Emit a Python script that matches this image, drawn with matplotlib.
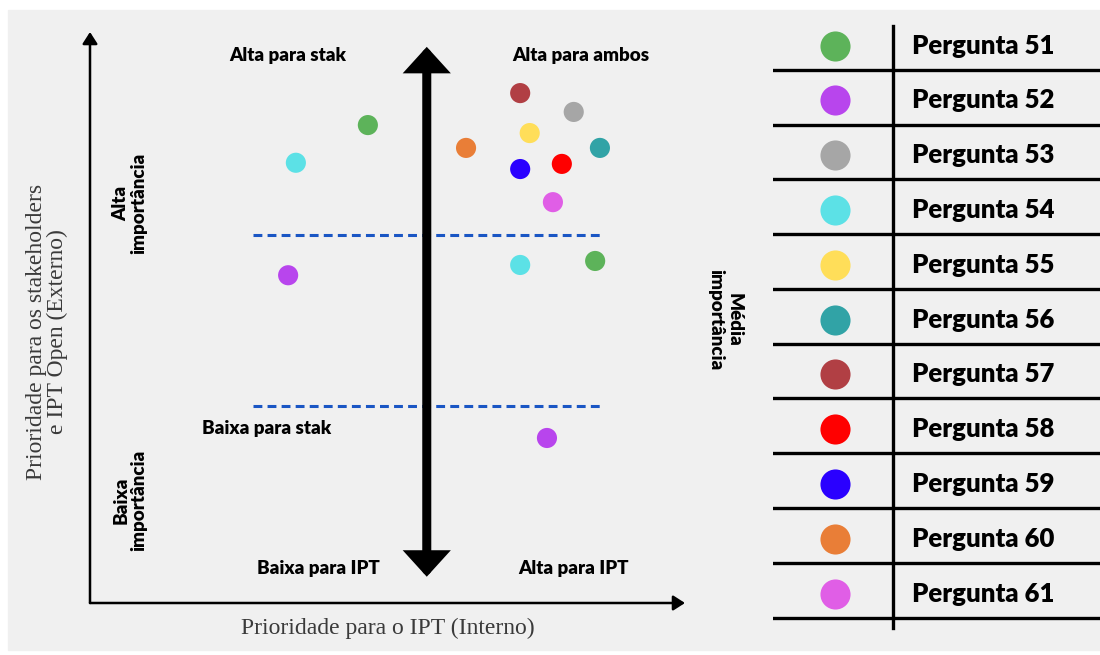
import matplotlib.pyplot as plt
from matplotlib.patches import Rectangle

# legenda: perguntas e cores
perguntas = ["Pergunta 51", "Pergunta 52", "Pergunta 53", "Pergunta 54",
             "Pergunta 55", "Pergunta 56", "Pergunta 57", "Pergunta 58",
             "Pergunta 59", "Pergunta 60", "Pergunta 61"]
cores = ["#5db35a", "#b845ed", "#a6a6a6", "#5ce1e6", "#ffde59", "#31a3a6",
         "#b13f44", "#ff0000", "#2a00ff", "#e97e37", "#e05ee6"]

# pontos (pergunta, prioridade IPT, prioridade stakeholders) numa escala 0-10
pontos_perg = [51, 51, 52, 52, 53, 54, 54, 55, 56, 57, 58, 59, 60, 61]
pontos_ipt = [4.67, 8.49, 3.33, 7.68, 8.13, 3.46, 7.23, 7.39, 8.57, 7.23, 7.93, 7.23, 6.32, 7.78]
pontos_stak = [8.37, 5.99, 5.74, 2.89, 8.60, 7.71, 5.92, 8.23, 7.97, 8.93, 7.69, 7.60, 7.97, 7.02]

# cortes
corte_ipt = 5.66
corte_alta = 6.44
corte_baixa = 3.45

FONTE = "Lato"
SERIF = "Liberation Serif"

fig = plt.figure(figsize=(11, 6.55), dpi=100, facecolor="white")
fig.add_artist(Rectangle((8 / 1100, 5 / 655), 1 - 8 / 1100, 640 / 655,
                         transform=fig.transFigure, color="#f0f0f0", zorder=0))

# ---- gráfico principal ----
ax = fig.add_axes([90 / 1100, 52 / 655, 595 / 1100, 571 / 655])
ax.set_xlim(0, 10)
ax.set_ylim(0, 10)
ax.axis("off")

# eixos com setas
eixo = dict(arrowstyle="-|>,head_length=7,head_width=4.5", lw=1.8, color="black",
            mutation_scale=1, shrinkA=0, shrinkB=0)
ax.annotate("", xy=(0, 10), xytext=(0, 0), arrowprops=eixo, annotation_clip=False)
ax.annotate("", xy=(10, 0), xytext=(0, 0), arrowprops=eixo, annotation_clip=False)

# seta dupla central
ax.annotate("", xy=(corte_ipt, 9.74), xytext=(corte_ipt, 0.46),
            arrowprops=dict(arrowstyle="<|-|>,head_length=11,head_width=10", lw=6.5,
                            color="black", mutation_scale=1, shrinkA=0, shrinkB=0,
                            joinstyle="miter"),
            annotation_clip=False)

# linhas tracejadas
for yc in [corte_alta, corte_baixa]:
    ax.plot([2.74, 8.57], [yc, yc], color="#1a56c4", lw=2.2, ls=(0, (2.9, 1.7)))

# pontos
cor_de = dict(zip(range(51, 62), cores))
ax.scatter(pontos_ipt, pontos_stak, s=210, c=[cor_de[p] for p in pontos_perg],
           linewidths=0, zorder=3)

# rótulos dos quadrantes
rot = dict(fontfamily=FONTE, fontweight="heavy", fontsize=13.5, ha="center", va="center")
ax.text(3.33, 9.58, "Alta para stak", **rot)
ax.text(8.25, 9.58, "Alta para ambos", **rot)
ax.text(2.97, 3.06, "Baixa para stak", **rot)
ax.text(3.83, 0.61, "Baixa para IPT", **rot)
ax.text(8.13, 0.61, "Alta para IPT", **rot)
ax.text(0.67, 7.0, "Alta\nimportância", rotation=90, multialignment="center",
        linespacing=1.05, **rot)
ax.text(0.67, 1.80, "Baixa\nimportância", rotation=90, multialignment="center",
        linespacing=1.05, **rot)
ax.text(10.67, 4.96, "Média\nimportância", rotation=270, multialignment="center",
        linespacing=1.05, clip_on=False, **rot)

# títulos dos eixos
ax.text(5.0, -0.44, "Prioridade para o IPT (Interno)", fontfamily=SERIF, fontsize=17,
        color="#3a3a3a", ha="center", va="center")
ax.text(-0.72, 4.75, "Prioridade para os stakeholders\ne IPT Open (Externo)",
        fontfamily=SERIF, fontsize=17, color="#3a3a3a", ha="center", va="center",
        rotation=90, multialignment="center", linespacing=0.95)

# ---- tabela de legenda ----
lg = fig.add_axes([773 / 1100, 10 / 655, 327 / 1100, 630 / 655])
lg.set_xlim(0, 1)
lg.set_ylim(11.5, 0)
lg.axis("off")

for i, (nome, cor) in enumerate(zip(perguntas, cores)):
    lg.scatter(0.19, i + 0.56, s=470, color=cor, linewidths=0)
    lg.text(0.425, i + 0.56, nome, fontfamily=FONTE, fontweight="heavy", fontsize=18.5,
            ha="left", va="center")
    lg.axhline(i + 1, color="black", lw=2.4)
lg.plot([0.367, 0.367], [0.2, 11.19], color="black", lw=2.4)

fig.savefig("out.png", dpi=100, facecolor="white")
